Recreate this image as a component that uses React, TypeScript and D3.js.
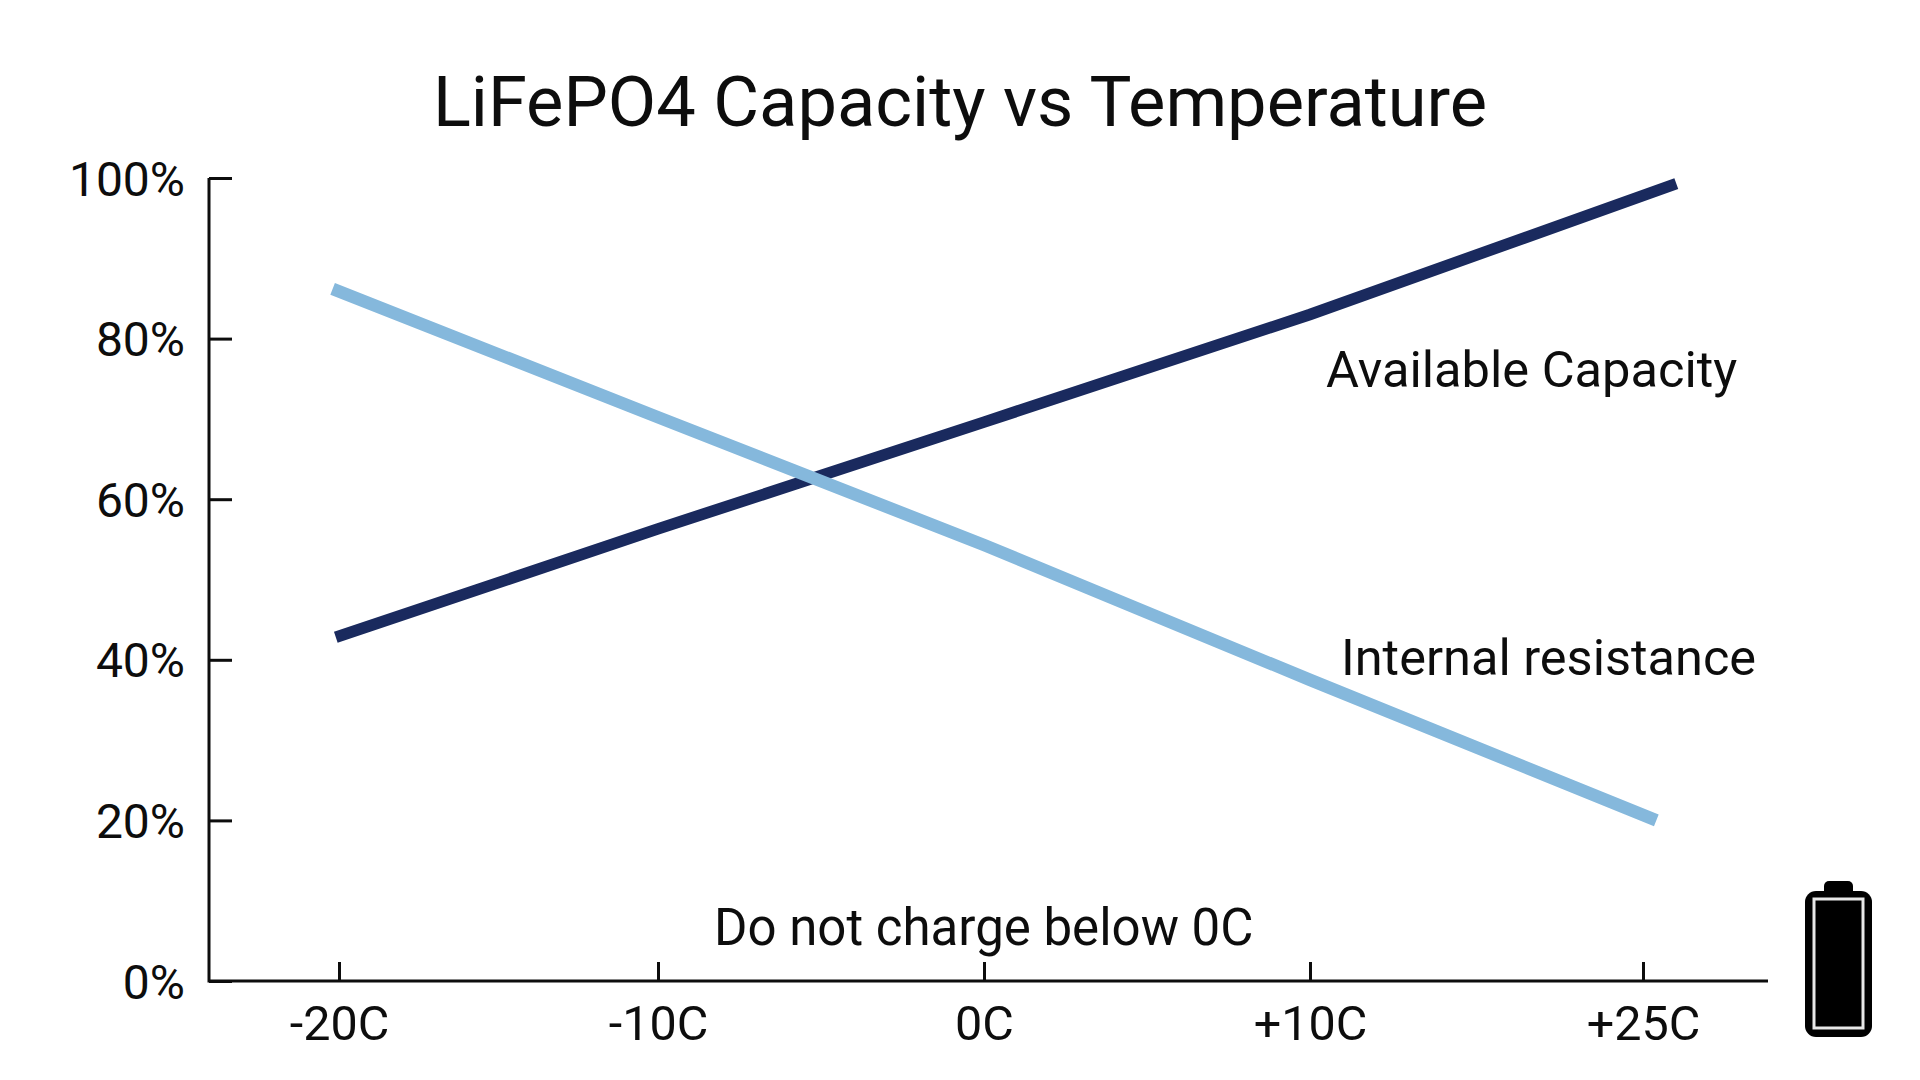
import { useEffect, useRef } from 'react'
import * as d3 from 'd3'

const title = 'LiFePO4 Capacity vs Temperature'
const tempTicks = [-20, -10, 0, 10, 25]
const tempLabels = ['-20C', '-10C', '0C', '+10C', '+25C']
const percentTicks = [0, 20, 40, 60, 80, 100]

const capacityTemps = [-20.1, -10, 0, 10, 26.5]
const capacityValues = [42.8, 56.3, 69.6, 83, 99.3]
const resistanceTemps = [-20.2, -10, 0, 10, 25.6]
const resistanceValues = [86.2, 70.2, 54.3, 37.5, 20]

const WIDTH = 1920
const HEIGHT = 1080
const FONT = 'Roboto, sans-serif'
const INK = '#0d0d0d'

export default function App() {
  const svgRef = useRef<SVGSVGElement>(null)

  useEffect(() => {
    if (!svgRef.current) return
    const svg = d3.select(svgRef.current)
    svg.selectAll('*').remove()

    // the ticks are not quite evenly spaced in the original
    const x = d3.scaleLinear().domain(tempTicks).range([339, 658, 984, 1310, 1643])
    const y = d3.scaleLinear().domain([0, 100]).range([981, 178])

    svg.append('rect').attr('width', WIDTH).attr('height', HEIGHT).attr('fill', '#ffffff')

    svg.append('text')
      .attr('x', 960)
      .attr('y', 126)
      .attr('text-anchor', 'middle')
      .attr('font-family', FONT)
      .attr('font-size', 70.4)
      .attr('fill', INK)
      .text(title)

    // Eixos
    const yAxis = d3.axisLeft(y)
      .tickValues(percentTicks)
      .tickSize(-23)
      .tickPadding(24)
      .tickFormat(d => `${d}%`)

    const yGroup = svg.append('g').attr('transform', 'translate(209,0)').call(yAxis as any)
    yGroup.select('.domain').remove()
    yGroup.selectAll('line').attr('stroke', INK).attr('stroke-width', 3)
    yGroup.selectAll('text')
      .attr('font-family', FONT)
      .attr('font-size', 48)
      .attr('fill', INK)
      .attr('dy', 17)

    const xAxis = d3.axisBottom(x)
      .tickValues(tempTicks)
      .tickSize(-19)
      .tickPadding(25)
      .tickFormat((_, i) => tempLabels[i])

    const xGroup = svg.append('g').attr('transform', 'translate(0,981)').call(xAxis as any)
    xGroup.select('.domain').remove()
    xGroup.selectAll('line').attr('stroke', INK).attr('stroke-width', 3)
    xGroup.selectAll('text')
      .attr('font-family', FONT)
      .attr('font-size', 48.5)
      .attr('fill', INK)

    svg.append('path')
      .attr('d', 'M209,178V981H1768')
      .attr('fill', 'none')
      .attr('stroke', INK)
      .attr('stroke-width', 3)

    // Linhas
    const line = d3.line<[number, number]>()
      .x(d => x(d[0]))
      .y(d => y(d[1]))

    const capacity = capacityTemps.map((t, i) => [t, capacityValues[i]] as [number, number])
    const resistance = resistanceTemps.map((t, i) => [t, resistanceValues[i]] as [number, number])

    svg.append('path')
      .attr('d', line(capacity))
      .attr('fill', 'none')
      .attr('stroke', '#1a2a5e')
      .attr('stroke-width', 11.5)

    svg.append('path')
      .attr('d', line(resistance))
      .attr('fill', 'none')
      .attr('stroke', '#85b8dc')
      .attr('stroke-width', 12.5)

    // Anotações
    const notes = [
      { text: 'Available Capacity', x: 1326, y: 387, size: 50.6 },
      { text: 'Internal resistance', x: 1341, y: 675, size: 50.5 },
      { text: 'Do not charge below 0C', x: 714, y: 945, size: 51 },
    ]
    svg.selectAll('.note')
      .data(notes)
      .enter()
      .append('text')
      .attr('class', 'note')
      .attr('x', d => d.x)
      .attr('y', d => d.y)
      .attr('font-family', FONT)
      .attr('font-size', d => d.size)
      .attr('fill', INK)
      .text(d => d.text)

    // Bateria
    const battery = svg.append('g')
    battery.append('rect')
      .attr('x', 1824).attr('y', 881).attr('width', 29).attr('height', 20).attr('rx', 5)
      .attr('fill', '#000000')
    battery.append('rect')
      .attr('x', 1805).attr('y', 891).attr('width', 67).attr('height', 146).attr('rx', 11)
      .attr('fill', '#000000')
    battery.append('rect')
      .attr('x', 1814).attr('y', 899).attr('width', 49).attr('height', 129)
      .attr('fill', 'none')
      .attr('stroke', '#e8e8e8')
      .attr('stroke-width', 3)
  }, [])

  return (
    <svg
      ref={svgRef}
      width={WIDTH}
      height={HEIGHT}
      style={{ position: 'absolute', left: 0, top: 0 }}
    />
  )
}
